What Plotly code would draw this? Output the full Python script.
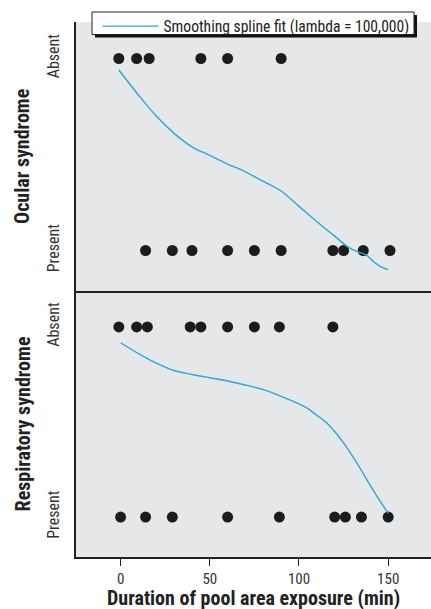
import plotly.graph_objects as go

# ---- data (minutes of pool area exposure; 1 = Absent, 0 = Present) ----
ocular_absent_x = [-1, 9, 16, 45, 60, 90]
ocular_present_x = [14, 29, 40, 60, 75, 90, 119, 125, 136, 151]
resp_absent_x = [-1, 9, 15, 39, 45, 60, 75, 89, 119]
resp_present_x = [0, 14, 29, 60, 89, 120, 126, 135, 150]

ocular_fit_x = [-1, 10, 20, 30, 40, 50, 60, 70, 80, 90, 100, 110, 120, 128, 134, 138, 142, 146, 150]
ocular_fit_y = [0.94, 0.81, 0.70, 0.61, 0.54, 0.495, 0.45, 0.41, 0.36, 0.31, 0.23, 0.15, 0.075, 0.015, -0.01, -0.025, -0.06, -0.085, -0.10]
resp_fit_x = [0, 10, 20, 30, 40, 50, 60, 70, 80, 90, 100, 105, 110, 115, 120, 125, 130, 135, 140, 145, 150]
resp_fit_y = [0.917, 0.86, 0.81, 0.771, 0.75, 0.733, 0.716, 0.695, 0.67, 0.635, 0.595, 0.57, 0.535, 0.50, 0.45, 0.39, 0.32, 0.245, 0.165, 0.09, 0.02]

tick_vals = [0, 1]
tick_text = ["Present", "Absent"]
x_ticks = [0, 50, 100, 150]
legend_label = "Smoothing spline fit (lambda = 100,000)"

COND = "Roboto Condensed, Arial Narrow, sans-serif"
DOT = "#1c1c1c"
FIT = "#25a8e0"
AX = "#222222"

W, H = 431, 609
ML, MR, MT, MB = 76, 0, 22, 52
PW, PH = W - ML - MR, H - MT - MB


def px_x(px):
    return (px - ML) / PW


def px_y(py):
    return (H - MB - py) / PH


fig = go.Figure()


def dots(x, yval, xa, ya):
    fig.add_trace(go.Scatter(x=x, y=[yval] * len(x), mode="markers",
                             marker=dict(size=11, color=DOT),
                             xaxis=xa, yaxis=ya, showlegend=False, hoverinfo="skip"))


dots(ocular_absent_x, 1, "x2", "y2")
dots(ocular_present_x, 0, "x2", "y2")
dots(resp_absent_x, 1, "x", "y")
dots(resp_present_x, 0, "x", "y")

fig.add_trace(go.Scatter(x=ocular_fit_x, y=ocular_fit_y, mode="lines",
                         line=dict(color=FIT, width=1.4, shape="spline"),
                         xaxis="x2", yaxis="y2", name=legend_label, showlegend=True))
fig.add_trace(go.Scatter(x=resp_fit_x, y=resp_fit_y, mode="lines",
                         line=dict(color=FIT, width=1.4, shape="spline"),
                         xaxis="x", yaxis="y", showlegend=False))

xrange = [-25, 174]
yrange = [-0.21, 1.19]
split = 0.4975

common_y = dict(range=yrange, tickvals=tick_vals, ticktext=tick_text, tickangle=-90,
                showgrid=False, zeroline=False, showline=True, linecolor=AX, linewidth=1.5,
                ticks="", ticklabelstandoff=9, automargin=False,
                tickfont=dict(family=COND, size=16, color="#333333"))

shapes = [
    # legend drop shadow and frame
    dict(type="rect", xref="paper", yref="paper", layer="above",
         x0=px_x(95), x1=px_x(417), y0=px_y(37.5), y1=px_y(15),
         fillcolor="#111111", line=dict(width=0)),
    dict(type="rect", xref="paper", yref="paper", layer="above",
         x0=px_x(92), x1=px_x(414), y0=px_y(34.5), y1=px_y(12),
         fillcolor="white", line=dict(color=AX, width=1)),
]

fig.update_layout(
    template="none",
    width=W, height=H,
    margin=dict(l=ML, r=MR, t=MT, b=MB),
    paper_bgcolor="white", plot_bgcolor="#e6e7e8",
    showlegend=True,
    xaxis=dict(domain=[0, 1], anchor="y", range=xrange, tickvals=x_ticks,
               showgrid=False, zeroline=False, showline=True, linecolor=AX, linewidth=1.5,
               ticks="outside", ticklen=7, tickwidth=1, tickcolor=AX, ticklabelstandoff=0,
               automargin=False,
               tickfont=dict(family=COND, size=15, color="#333333")),
    xaxis2=dict(domain=[0, 1], anchor="y2", range=xrange, showticklabels=False,
                showgrid=False, zeroline=False, showline=True, linecolor=AX, linewidth=1.5,
                ticks="", automargin=False),
    yaxis=dict(domain=[0, split], anchor="x", **common_y),
    yaxis2=dict(domain=[split, 1], anchor="x2", **common_y),
    legend=dict(x=px_x(97.5), y=px_y(9.5), xanchor="left", yanchor="top",
                bgcolor="rgba(0,0,0,0)", borderwidth=0,
                itemwidth=56, font=dict(family=COND, size=15.6, color="#222222"),
                tracegroupgap=0),
    shapes=shapes,
    annotations=[
        dict(text="<b>Ocular syndrome</b>", xref="paper", yref="paper",
             x=px_x(22.5), y=(split + 1) / 2, xanchor="center", yanchor="middle",
             textangle=-90, showarrow=False,
             font=dict(family=COND, size=20, color="#222222")),
        dict(text="<b>Respiratory syndrome</b>", xref="paper", yref="paper",
             x=px_x(22.5), y=split / 2, xanchor="center", yanchor="middle",
             textangle=-90, showarrow=False,
             font=dict(family=COND, size=20, color="#222222")),
        dict(text="<b>Duration of pool area exposure (min)</b>", xref="paper", yref="paper",
             x=0.5, y=px_y(598), xanchor="center", yanchor="middle", showarrow=False,
             font=dict(family=COND, size=20, color="#222222")),
    ],
)

fig.write_html("out.html", config={"displayModeBar": False},
               post_script="document.body.style.margin='0px';")
